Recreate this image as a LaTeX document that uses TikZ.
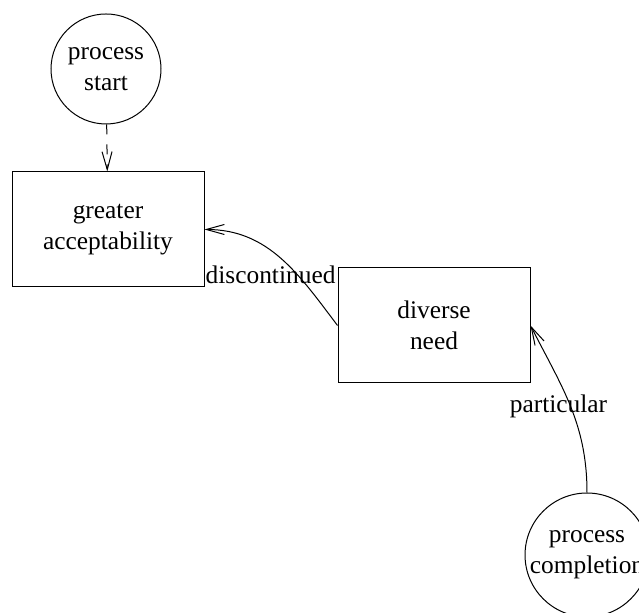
\documentclass[tikz,border=0pt]{standalone}
\usepackage{fontspec}
\setmainfont{Liberation Serif}
\usetikzlibrary{automata, positioning, arrows.meta}

\begin{document}
\begin{tikzpicture}[x=0.5pt, y=0.5pt, ->, >={Straight Barb[length=9pt,width=5pt]}, line width=0.5pt,
    every node/.style={font=\fontsize{12.7}{15.5}\selectfont, align=center},
    every state/.style={draw, minimum size=55pt, inner sep=0pt},
    block/.style={draw, rectangle, minimum width=96pt, minimum height=57.5pt}]
      \useasboundingbox (0,0) rectangle (639,613);
      \node[state] (start) at (106,544) {process\\start};
      \node[block] (greater) at (108,383.5) {greater\\acceptability};
      \node[block] (diverse) at (434,287.5) {diverse\\need};
      \node[state] (completion) at (587,58) {process\\completion};

      \path (start) edge [dash pattern=on 5pt off 5pt] (greater)
            (diverse.west) edge [out=127, in=0] node [xshift=-5pt, yshift=-8.5pt] {discontinued} (greater.east)
            (completion.north) edge [out=90, in=-63] node [xshift=-6pt] {particular} (diverse.east)
            ;
    \end{tikzpicture}
\end{document}
